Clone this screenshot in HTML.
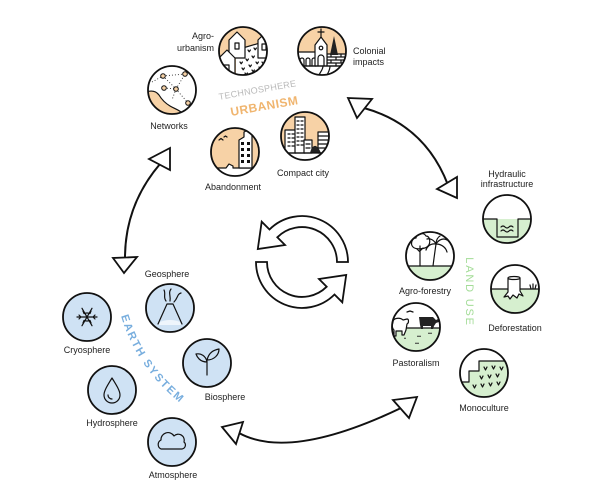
<!DOCTYPE html>
<html><head><meta charset="utf-8"><style>
html,body{margin:0;padding:0;background:#fff;}
svg{display:block;}
text{font-family:"Liberation Sans",Arial,sans-serif;}
.lb{font-size:9px;fill:#222;text-anchor:middle;}
.o{fill:none;stroke:#111;stroke-width:1.8;}
.l{fill:none;stroke:#111;stroke-width:1.2;stroke-linejoin:round;stroke-linecap:round;}
.w{fill:#fff;stroke:#111;stroke-width:1.2;stroke-linejoin:round;}
.ah{fill:#fff;stroke:#111;stroke-width:1.8;stroke-linejoin:miter;}
.cv{fill:none;stroke:#111;stroke-width:2;}
</style></head><body>
<svg width="600" height="500" viewBox="0 0 600 500" xmlns="http://www.w3.org/2000/svg">
<defs>
<clipPath id="cN"><circle cx="172" cy="90" r="24"/></clipPath>
<clipPath id="cA"><circle cx="243" cy="51" r="24"/></clipPath>
<clipPath id="cC"><circle cx="322" cy="51" r="24"/></clipPath>
<clipPath id="cB"><circle cx="235" cy="152" r="24"/></clipPath>
<clipPath id="cK"><circle cx="305" cy="136" r="24"/></clipPath>
<clipPath id="cH"><circle cx="507" cy="219" r="24"/></clipPath>
<clipPath id="cF"><circle cx="430" cy="256" r="24"/></clipPath>
<clipPath id="cD"><circle cx="515" cy="289" r="24"/></clipPath>
<clipPath id="cP"><circle cx="416" cy="327" r="24"/></clipPath>
<clipPath id="cM"><circle cx="484" cy="373" r="24"/></clipPath>
<path id="es" d="M120,312 Q136,372 192,412"/>
</defs>

<!-- ===== Big double arrows ===== -->
<path class="cv" d="M160,164 Q125,205 125,258"/>
<polygon class="ah" points="170,148 149,159 170,170"/>
<polygon class="ah" points="124,273 113,258 137,257"/>

<path class="cv" d="M364,108 Q425,125 448,185"/>
<polygon class="ah" points="348,98 372,99 357,118"/>
<polygon class="ah" points="457,198 437,189 457,177"/>

<path class="cv" d="M239,433 Q290,461 401,408"/>
<polygon class="ah" points="222,427 243,422 236,444"/>
<polygon class="ah" points="417,397 393,400 409,418"/>

<!-- ===== Center cycle arrows ===== -->
<path class="ah" d="M348,262 A46,46 0 0 0 269.5,229.5 L261.7,221.7 L257.8,249 L285,245 L277.3,237.3 A35,35 0 0 1 337,262 Z"/>
<path class="ah" transform="rotate(180 302 262)" d="M348,262 A46,46 0 0 0 269.5,229.5 L261.7,221.7 L257.8,249 L285,245 L277.3,237.3 A35,35 0 0 1 337,262 Z"/>

<!-- ===== URBANISM cluster ===== -->
<!-- Networks -->
<circle cx="172" cy="90" r="24" fill="#fff"/>
<g clip-path="url(#cN)">
<path d="M146,92 C152,90 156,91 159,95 C162,100 165,103 170,106 C175,109 180,110 183,114 L190,120 L146,120 Z" fill="#f7d2a6" stroke="#111" stroke-width="1.2"/>
<path d="M163,76 L185,74 M164,88 L176,89 L188,103 M176,89 L185,74 M163,76 L176,89 M176,89 L172,100 M152,82 L163,76" stroke="#333" stroke-width="0.9" stroke-dasharray="1 2" fill="none"/>
<circle cx="163" cy="76" r="2.3" fill="#f7d2a6" stroke="#111" stroke-width="1"/>
<circle cx="185" cy="74" r="2.3" fill="#f7d2a6" stroke="#111" stroke-width="1"/>
<circle cx="164" cy="88" r="2.3" fill="#f7d2a6" stroke="#111" stroke-width="1"/>
<circle cx="176" cy="89" r="2.3" fill="#f7d2a6" stroke="#111" stroke-width="1"/>
<circle cx="188" cy="103" r="2.3" fill="#f7d2a6" stroke="#111" stroke-width="1"/>
</g>
<circle class="o" cx="172" cy="90" r="24"/>

<!-- Agro-urbanism -->
<circle cx="243" cy="51" r="24" fill="#f7d2a6"/>
<g clip-path="url(#cA)">
<path d="M236,80 L236,50 L270,40 L270,80 Z" fill="#fff"/>
<path class="l" d="M236,50 L270,40"/>
<path class="w" d="M229,58 L229,40 L237,32 L245,40 L245,58 Z"/>
<rect x="235" y="43" width="4" height="6" class="w"/>
<path class="w" d="M258,58 L258,40 L264,34 L270,40 L270,58 Z"/>
<rect x="262" y="44" width="4" height="6" class="w"/>
<path class="w" d="M219,80 L219,58 L227,50 L235,58 L235,80 Z"/>
<rect x="224" y="65" width="5" height="12" class="w"/>
<path class="l" stroke-width="0.9" d="M240,62 l1.2,1.8 l1.2,-1.8 M246,59 l1.2,1.8 l1.2,-1.8 M252,56 l1.2,1.8 l1.2,-1.8 M248,50 l1.2,1.8 l1.2,-1.8 M254,48 l1.2,1.8 l1.2,-1.8 M242,68 l1.2,1.8 l1.2,-1.8 M249,65 l1.2,1.8 l1.2,-1.8 M256,62 l1.2,1.8 l1.2,-1.8 M262,62 l1.2,1.8 l1.2,-1.8 M245,73 l1.2,1.8 l1.2,-1.8 M252,70 l1.2,1.8 l1.2,-1.8 M259,67 l1.2,1.8 l1.2,-1.8 M265,65 l1.2,1.8 l1.2,-1.8"/>
</g>
<circle class="o" cx="243" cy="51" r="24"/>

<!-- Colonial impacts -->
<circle cx="322" cy="51" r="24" fill="#f7d2a6"/>
<g clip-path="url(#cC)">
<rect x="295" y="55" width="55" height="25" fill="#fff"/>
<rect x="297" y="52" width="19" height="14" class="w"/>
<path class="l" d="M300,66 L300,60 A2,2 0 0 1 304,60 L304,66 M306,66 L306,60 A2,2 0 0 1 310,60 L310,66 M312,66 L312,60 A2,2 0 0 1 316,60 L316,66"/>
<rect x="327" y="54" width="22" height="12" class="w"/>
<path class="l" stroke-width="0.8" d="M327,57 L349,57 M327,60 L349,60 M327,63 L349,63 M331,54 L331,57 M336,57 L336,60 M331,60 L331,63 M341,54 L341,57 M346,57 L346,60 M341,60 L341,63 M336,63 L336,66"/>
<path d="M330,55 L334,36 L338,55 Z" fill="#222"/>
<path class="w" d="M315,66 L315,45 L321,37 L327,45 L327,66 Z"/>
<path class="l" d="M321,37 L321,29 M318,32 L324,32"/>
<circle cx="321" cy="48" r="1.8" class="w" stroke-width="1"/>
<path class="l" d="M318,66 L318,58 A3,3 0 0 1 324,58 L324,66"/>
<path class="l" d="M295,66 L350,66"/>
<path class="l" d="M318,80 C318,73 323,71 323,66 M326,80 C326,74 330,72 330,66"/>
</g>
<circle class="o" cx="322" cy="51" r="24"/>

<!-- Abandonment -->
<circle cx="235" cy="152" r="24" fill="#f7d2a6"/>
<g clip-path="url(#cB)">
<path class="w" d="M205,180 L205,168 L226,168 L229,164 L233,166 L233,168 L265,168 L265,180 Z"/>
<path class="w" d="M239,168 L239,140 L244,137 L244,132 L248,130 L252,131 L252,168 Z"/>
<path d="M241,142h3v3h-3zM247,142h3v3h-3zM241,148h3v3h-3zM247,148h3v3h-3zM241,154h3v3h-3zM247,154h3v3h-3zM241,160h3v3h-3zM247,160h3v3h-3z" fill="#111"/>
<path class="l" stroke-width="1" d="M219,140 l2,-1.5 l2,1.5 M224,137 l1.5,-1 l1.5,1"/>
</g>
<circle class="o" cx="235" cy="152" r="24"/>

<!-- Compact city -->
<circle cx="305" cy="136" r="24" fill="#f7d2a6"/>
<g clip-path="url(#cK)">
<rect x="280" y="153" width="50" height="10" fill="#fff"/>
<rect x="285" y="130" width="11" height="23" class="w"/>
<rect x="295" y="117" width="10" height="36" class="w"/>
<rect x="304" y="140" width="8" height="13" class="w"/>
<rect x="318" y="132" width="12" height="21" class="w"/>
<path d="M310,153 Q312,145 316,146 Q319,148 321,153 Z" fill="#222"/>
<path class="l" stroke-width="0.8" d="M297,121h2M301,121h2M297,125h2M301,125h2M297,129h2M301,129h2M297,133h2M301,133h2M297,137h2M301,137h2M297,141h2M301,141h2M297,145h2M301,145h2M288,134h2M292,134h2M288,138h2M292,138h2M288,142h2M292,142h2M288,146h2M292,146h2M318,136h12M318,140h12M318,144h12M318,148h12M306,144h4M306,148h4"/>
<path class="l" d="M280,153 L330,153"/>
</g>
<circle class="o" cx="305" cy="136" r="24"/>

<text x="214" y="39" class="lb" style="text-anchor:end">Agro-</text>
<text x="214" y="51" class="lb" style="text-anchor:end">urbanism</text>
<text x="353" y="54" class="lb" style="text-anchor:start">Colonial</text>
<text x="353" y="65" class="lb" style="text-anchor:start">impacts</text>
<text x="169" y="129" class="lb">Networks</text>
<text x="233" y="190" class="lb">Abandonment</text>
<text x="303" y="176" class="lb">Compact city</text>
<text transform="translate(258,93) rotate(-10)" style="font-size:9px;fill:#b9b9b9;text-anchor:middle;letter-spacing:0.3px">TECHNOSPHERE</text>
<text transform="translate(265,110) rotate(-10)" style="font-size:12px;font-weight:bold;fill:#f0b56f;text-anchor:middle;letter-spacing:0.5px">URBANISM</text>

<!-- ===== LAND USE cluster ===== -->
<!-- Hydraulic -->
<circle cx="507" cy="219" r="24" fill="#fff"/>
<g clip-path="url(#cH)">
<rect x="480" y="219" width="56" height="30" fill="#d6efcf"/>
<path class="l" stroke-width="1.5" d="M480,219 L497,219 L497,237 L518,237 L518,219 L535,219"/>
<path class="l" stroke-width="1" d="M501,227 q2,-2 4,0 q2,2 4,0 q2,-2 4,0 M501,231 q2,-2 4,0 q2,2 4,0 q2,-2 4,0"/>
</g>
<circle class="o" cx="507" cy="219" r="24"/>

<!-- Agro-forestry -->
<circle cx="430" cy="256" r="24" fill="#fff"/>
<g clip-path="url(#cF)">
<rect x="404" y="266" width="52" height="16" fill="#d6efcf"/>
<path class="l" d="M404,266 L456,266"/>
<path class="l" d="M420,266 L420,246 M417,249 L420,252 M423,248 L420,251"/>
<path class="l" d="M413,247 C410,244 412,238 416,238 C416,233 424,232 426,236 C430,236 431,243 428,246 C426,249 416,250 413,247 Z"/>
<path class="l" d="M433,266 C434,258 435,251 436,244 M436,244 C430,243 427,247 426,250 M436,244 C434,240 430,238 427,239 M436,244 C439,239 444,238 447,240 M436,244 C442,244 446,248 447,252 M436,244 C436,240 438,237 440,236"/>
</g>
<circle class="o" cx="430" cy="256" r="24"/>

<!-- Deforestation -->
<circle cx="515" cy="289" r="24" fill="#fff"/>
<g clip-path="url(#cD)">
<rect x="490" y="289" width="50" height="25" fill="#d6efcf"/>
<path class="l" d="M490,289 L540,289"/>
<path class="w" d="M508,278 L508,292 L504,297 L508,296 L510,299 L513,295 L517,298 L519,294 L523,296 L520,291 L520,278 Z"/>
<ellipse cx="514" cy="278" rx="6" ry="1.5" class="w" stroke-width="1"/>
<path class="l" stroke-width="1" d="M531,289 l-1,-4 M533,289 l0,-5 M535,289 l1,-4"/>
</g>
<circle class="o" cx="515" cy="289" r="24"/>

<!-- Pastoralism -->
<circle cx="416" cy="327" r="24" fill="#fff"/>
<g clip-path="url(#cP)">
<rect x="390" y="328" width="52" height="25" fill="#d6efcf"/>
<path class="l" d="M390,328 L442,328"/>
<path class="w" d="M393,322 C393,318 400,317 403,320 L407,319 C409,319 409,323 407,324 L406,330 L404,335 L402,335 L402,331 L396,331 L396,336 L394,336 L394,330 C392,328 392,325 393,322 Z"/>
<path d="M419,317 L433,317 L436,320 L438,319 L439,322 L436,323 L434,326 L433,329 L431,329 L431,326 L423,326 L423,329 L421,329 L420,325 Z" fill="#222"/>
<path class="l" stroke-width="1" d="M407,312 l3,-1 l3,1"/>
<path d="M417,337 l1,-2 l1,2 l1,-2 l1,2 Z M428,334 l1,-2 l1,2 l1,-2 l1,2 Z M415,344 l1,-2 l1,2 l1,-2 l1,2 Z M404,339 l1,-2 l1,2 Z" fill="#333"/>
</g>
<circle class="o" cx="416" cy="327" r="24"/>

<!-- Monoculture -->
<circle cx="484" cy="373" r="24" fill="#fff"/>
<g clip-path="url(#cM)">
<path d="M458,382 L469,382 L469,371 L479,371 L479,361 L510,361 L510,400 L458,400 Z" fill="#d6efcf"/>
<path class="l" stroke-width="1.4" d="M458,382 L469,382 L469,371 L479,371 L479,361 L510,361"/>
<path class="l" stroke-width="1.1" d="M484,367 l1.5,3 l1.5,-3 M492,366 l1.5,3 l1.5,-3 M500,367 l1.5,3 l1.5,-3 M480,376 l1.5,3 l1.5,-3 M488,375 l1.5,3 l1.5,-3 M496,374 l1.5,3 l1.5,-3 M473,385 l1.5,3 l1.5,-3 M481,384 l1.5,3 l1.5,-3 M489,383 l1.5,3 l1.5,-3 M497,382 l1.5,3 l1.5,-3"/>
</g>
<circle class="o" cx="484" cy="373" r="24"/>

<text x="507" y="177" class="lb">Hydraulic</text>
<text x="507" y="187" class="lb">infrastructure</text>
<text x="425" y="294" class="lb">Agro-forestry</text>
<text x="515" y="331" class="lb">Deforestation</text>
<text x="416" y="366" class="lb">Pastoralism</text>
<text x="484" y="411" class="lb">Monoculture</text>
<text transform="translate(466,292) rotate(90)" style="font-size:11px;fill:#a3dc97;text-anchor:middle;letter-spacing:1.8px">LAND USE</text>

<!-- ===== EARTH SYSTEM cluster ===== -->
<!-- Geosphere -->
<circle cx="170" cy="308" r="24" fill="#cfe2f4"/>
<path d="M160,322 Q170,318 180,322 L181,325 L159,325 Z" fill="#eef5fc"/>
<path class="l" d="M158,324 L167,304 L173,304 L182,324"/>
<path class="l" stroke-width="1" d="M166,301 C163,297 166,294 164,290 M170,301 C171,296 168,293 171,289 M174,302 C178,298 177,294 181,293"/>
<circle class="o" cx="170" cy="308" r="24"/>

<!-- Cryosphere -->
<circle cx="87" cy="317" r="24" fill="#cfe2f4"/>
<path class="l" stroke-width="1.3" d="M77,317 L97,317 M82,308.3 L92,325.7 M92,308.3 L82,325.7 M79,315 l2,2 l-2,2 M95,315 l-2,2 l2,2 M83,311 l1,2.5 l2.5,-0.5 M91,311 l-1,2.5 l-2.5,-0.5 M83,323 l1,-2.5 l2.5,0.5 M91,323 l-1,-2.5 l-2.5,0.5"/>
<circle class="o" cx="87" cy="317" r="24"/>

<!-- Biosphere -->
<circle cx="207" cy="363" r="24" fill="#cfe2f4"/>
<path class="l" d="M207,375 L207,361 M207,362 C200,362 197,357 196,354 C201,353 206,356 207,362 Z M207,360 C209,352 214,350 219,349 C219,355 214,360 207,360 Z"/>
<circle class="o" cx="207" cy="363" r="24"/>

<!-- Hydrosphere -->
<circle cx="112" cy="390" r="24" fill="#cfe2f4"/>
<path class="l" d="M112,378 C107,386 104,391 104,395 A8,8 0 0 0 120,395 C120,391 117,386 112,378 Z"/>
<path class="l" stroke-width="1" d="M108,395 A4,4 0 0 0 112,399"/>
<circle class="o" cx="112" cy="390" r="24"/>

<!-- Atmosphere -->
<circle cx="172" cy="442" r="24" fill="#cfe2f4"/>
<path class="l" d="M161,449 A5,5 0 0 1 161,440 A7,7 0 0 1 174,436 A6,6 0 0 1 184,442 A4,4 0 0 1 182,449 Z"/>
<circle class="o" cx="172" cy="442" r="24"/>

<text x="167" y="277" class="lb">Geosphere</text>
<text x="87" y="353" class="lb">Cryosphere</text>
<text x="225" y="400" class="lb">Biosphere</text>
<text x="112" y="426" class="lb">Hydrosphere</text>
<text x="173" y="478" class="lb">Atmosphere</text>
<text style="font-size:11px;font-weight:bold;fill:#78aede;letter-spacing:1.8px"><textPath href="#es" startOffset="4">EARTH SYSTEM</textPath></text>
</svg>
</body></html>
